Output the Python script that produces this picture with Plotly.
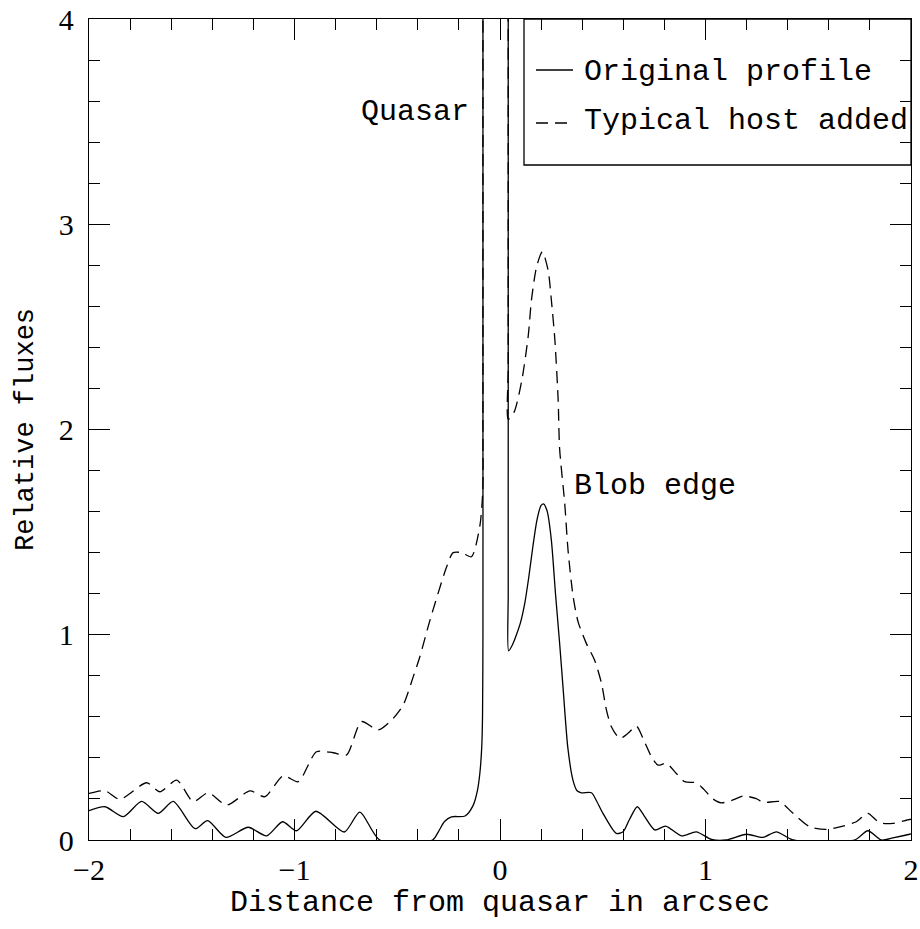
import plotly.graph_objects as go

# Original profile (solid)
orig_x = [-2.0, -1.922, -1.833, -1.744, -1.663, -1.59, -1.484, -1.423, -1.334, -1.225,
          -1.136, -1.058, -0.99, -0.896, -0.758, -0.682, -0.585, -0.328, -0.30, -0.27,
          -0.236, -0.17, -0.13, -0.11, -0.098, -0.089, -0.085, -0.083, -0.083, -0.083,
          -0.083, -0.083, 0.04, 0.04, 0.04, 0.04, 0.04, 0.042,
          0.06, 0.08, 0.10, 0.12, 0.14, 0.16, 0.18, 0.20, 0.213, 0.23,
          0.25, 0.27, 0.29, 0.307, 0.33, 0.355, 0.375, 0.396, 0.445, 0.47,
          0.501, 0.566, 0.599, 0.63, 0.668, 0.70, 0.753, 0.806, 0.883, 0.955,
          1.029, 1.10, 1.2, 1.28, 1.345, 1.426, 1.725, 1.79, 1.855, 1.912,
          1.993, 2.0]
orig_y = [0.143, 0.162, 0.114, 0.188, 0.130, 0.188, 0.055, 0.094, 0.013, 0.062,
          0.02, 0.089, 0.045, 0.140, 0.039, 0.136, 0.0, 0.0, 0.04, 0.09,
          0.113, 0.117, 0.17, 0.24, 0.325, 0.45, 0.60, 1.0, 2.0, 3.0,
          4.0, 6.0, 6.0, 4.0, 3.0, 2.0, 1.2, 0.922,
          0.95, 1.0, 1.06, 1.15, 1.28, 1.43, 1.56, 1.63, 1.637, 1.60,
          1.46, 1.2, 0.96, 0.74, 0.45, 0.292, 0.24, 0.23, 0.23, 0.19,
          0.13, 0.032, 0.04, 0.10, 0.162, 0.12, 0.049, 0.068, 0.02, 0.04,
          0.003, 0.0, 0.028, 0.013, 0.04, 0.0, 0.0, 0.045, 0.0, 0.01,
          0.028, 0.03]

# Typical host added (dashed)
host_x = [-2.0, -1.922, -1.85, -1.72, -1.655, -1.573, -1.493, -1.42, -1.33, -1.217,
          -1.144, -1.055, -0.982, -0.893, -0.812, -0.747, -0.674, -0.593, -0.52, -0.471,
          -0.422, -0.39, -0.341, -0.26, -0.228, -0.187, -0.139, -0.098, -0.084, -0.083,
          -0.083, -0.083, -0.083, 0.04, 0.04, 0.04, 0.04, 0.04,
          0.069, 0.105, 0.137, 0.153, 0.178, 0.206, 0.234, 0.25,
          0.267, 0.283, 0.29, 0.315, 0.331, 0.356, 0.38, 0.42, 0.46, 0.494,
          0.518, 0.542, 0.583, 0.623, 0.664, 0.696, 0.737, 0.769, 0.81, 0.858,
          0.899, 0.955, 0.988, 1.036, 1.077, 1.134, 1.183, 1.247, 1.28, 1.361,
          1.426, 1.507, 1.588, 1.669, 1.734, 1.79, 1.847, 1.912, 1.993, 2.0]
host_y = [0.227, 0.24, 0.198, 0.279, 0.235, 0.292, 0.187, 0.23, 0.17, 0.239,
          0.211, 0.313, 0.284, 0.43, 0.425, 0.414, 0.577, 0.536, 0.592, 0.658,
          0.796, 0.893, 1.07, 1.33, 1.40, 1.40, 1.38, 1.53, 1.70, 2.0,
          3.0, 4.0, 6.0, 6.0, 4.0, 3.0, 2.3, 2.05,
          2.086, 2.233, 2.452, 2.63, 2.793, 2.866, 2.777, 2.63,
          2.436, 2.144, 1.908, 1.64, 1.413, 1.185, 1.063, 0.958, 0.877, 0.763,
          0.633, 0.552, 0.495, 0.52, 0.555, 0.495, 0.406, 0.365, 0.373, 0.324,
          0.284, 0.279, 0.251, 0.2, 0.181, 0.195, 0.214, 0.202, 0.183, 0.187,
          0.13, 0.065, 0.052, 0.068, 0.089, 0.13, 0.084, 0.081, 0.10, 0.10]

x_ticks = [-2, -1, 0, 1, 2]
y_ticks = [0, 1, 2, 3, 4]

FONT = "Liberation Mono"
NUMFONT = "Liberation Serif"

fig = go.Figure()
fig.add_trace(go.Scatter(x=orig_x, y=orig_y, mode="lines", name="Original profile",
                         line=dict(color="black", width=1.3, shape="spline", smoothing=0.7)))
fig.add_trace(go.Scatter(x=host_x, y=host_y, mode="lines", name="Typical host added",
                         line=dict(color="black", width=1.3, dash="12px,7px",
                                   shape="spline", smoothing=0.7)))

axis_common = dict(
    showgrid=False, zeroline=False, showline=True, linecolor="black", linewidth=1.3,
    mirror="allticks", ticks="inside", ticklen=21, tickwidth=1.3, tickcolor="black",
    minor=dict(ticks="inside", ticklen=11, dtick=0.2, tickwidth=1.3, tickcolor="black",
               showgrid=False),
    tickfont=dict(family=NUMFONT, size=30, color="black"),
    ticklabeloverflow="allow",
    automargin=False,
)

fig.update_layout(
    width=920, height=929,
    margin=dict(l=89, r=9, t=19, b=89, autoexpand=False),
    paper_bgcolor="white", plot_bgcolor="white",
    showlegend=False,
    xaxis=dict(range=[-2, 2], tickvals=x_ticks, ticklabelstandoff=3,
               title=dict(text="Distance from quasar in arcsec",
                          font=dict(family=FONT, size=30, color="black"), standoff=2),
               **axis_common),
    yaxis=dict(range=[0, 4], tickvals=y_ticks, ticklabelstandoff=8,
               title=dict(text="Relative fluxes",
                          font=dict(family=FONT, size=27, color="black"), standoff=17),
               **axis_common),
)

# Legend box (manual, top-right); pixel positions relative to the figure
def px2paper(px, py):
    return (px - 89) / 822.0, (840 - py) / 821.0

bx0, by0 = px2paper(524, 165)
fig.add_shape(type="rect", xref="paper", yref="paper", x0=bx0, y0=by0, x1=1, y1=1,
              line=dict(color="black", width=1.3), fillcolor="rgba(0,0,0,0)")
lx0, ly1 = px2paper(536, 70)
lx1, ly2 = px2paper(573, 123)
fig.add_shape(type="line", xref="paper", yref="paper", x0=lx0, x1=lx1, y0=ly1, y1=ly1,
              line=dict(color="black", width=1.3))
fig.add_shape(type="line", xref="paper", yref="paper", x0=lx0, x1=lx1, y0=ly2, y1=ly2,
              line=dict(color="black", width=1.3, dash="12px,7px"))
tx, _ = px2paper(582, 0)
fig.add_annotation(xref="paper", yref="paper", x=tx, y=px2paper(0, 72)[1], text="Original profile",
                   showarrow=False, xanchor="left", yanchor="middle",
                   font=dict(family=FONT, size=30, color="black"))
fig.add_annotation(xref="paper", yref="paper", x=tx, y=px2paper(0, 121)[1],
                   text="Typical host added", showarrow=False, xanchor="left",
                   yanchor="middle", font=dict(family=FONT, size=30, color="black"))

qx, qy = px2paper(471, 112)
fig.add_annotation(xref="paper", yref="paper", x=qx, y=qy, text="Quasar",
                   showarrow=False, xanchor="right", yanchor="middle",
                   font=dict(family=FONT, size=30, color="black"))
bx, byy = px2paper(572, 486)
fig.add_annotation(xref="paper", yref="paper", x=bx, y=byy, text="Blob edge",
                   showarrow=False, xanchor="left", yanchor="middle",
                   font=dict(family=FONT, size=30, color="black"))

# remove the default 8px page margin so the 920x929 figure fills the window exactly
fig.write_html("out.html", config={"displayModeBar": False},
               post_script="document.body.style.margin='0px';")
